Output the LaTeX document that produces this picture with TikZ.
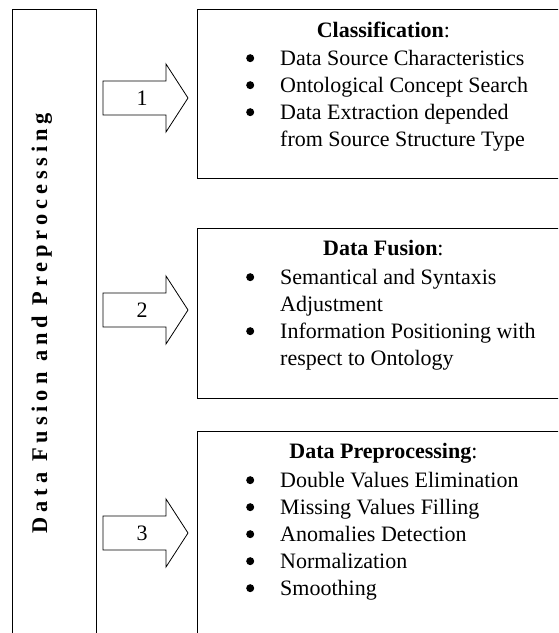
\documentclass[tikz,border=0pt]{standalone}
\usepackage{fontspec}
\setmainfont{Liberation Serif}
\usetikzlibrary{positioning}

\tikzset{
  panel/.style = {draw, line width=0.8pt, anchor=north west, minimum width=372pt, inner sep=0pt},
  head/.style  = {font=\fontsize{22}{27}\selectfont, inner sep=0pt, anchor=base},
  items/.style = {font=\fontsize{22}{27}\selectfont, inner sep=0pt, align=left, anchor=north west},
  numtext/.style = {font=\fontsize{22}{27}\selectfont, inner sep=0pt}
}
\newcommand{\blt}{\hspace*{2pt}\raisebox{3.3pt}{\tikz\fill (0,0) circle (4pt);}}
\newcommand{\itm}[1]{\makebox[36pt][l]{\blt}#1}
\newcommand{\cnt}[1]{\hspace*{36pt}#1}

\begin{document}
\begin{tikzpicture}[x=1pt, y=-1pt, line width=0.8pt]
        \path[use as bounding box, clip] (0,0) rectangle (558,633);
        % left bar
        \node[draw, anchor=north west, minimum width=84pt, minimum height=700pt, inner sep=0pt] (bar) at (12,9) {};
        \node[rotate=90, anchor=base, font=\fontsize{22.4}{26}\selectfont\bfseries\addfontfeatures{LetterSpace=22}] (side) at (47,323) {Data Fusion and Preprocessing};
        % boxes
        \node[panel, minimum height=169pt] (cls) at (197,9) {};
        \node[panel, minimum height=170pt] (fus) at (197,228) {};
        \node[panel, minimum height=300pt] (pre) at (197,431) {};
        \node[head] (clsh) at ([yshift=-28pt]cls.north) {\textbf{Classification}:};
        \node[head] (fush) at ([yshift=-27pt]fus.north) {\textbf{Data Fusion}:};
        \node[head] (preh) at ([yshift=-27.5pt]pre.north) {\textbf{Data Preprocessing}:};
        \node[items] (clsl) at ([xshift=47pt, yshift=-41pt]cls.north west) {\itm{Data Source Characteristics}\\ \itm{Ontological Concept Search}\\ \itm{Data Extraction depended}\\ \cnt{from Source Structure Type}};
        \node[items] (fusl) at ([xshift=47pt, yshift=-41pt]fus.north west) {\itm{Semantical and Syntaxis}\\ \cnt{Adjustment}\\ \itm{Information Positioning with}\\ \cnt{respect to Ontology}};
        \node[items] (prel) at ([xshift=47pt, yshift=-41pt]pre.north west) {\itm{Double Values Elimination}\\ \itm{Missing Values Filling}\\ \itm{Anomalies Detection}\\ \itm{Normalization}\\ \itm{Smoothing}};
        % block arrows
        \foreach \n/\y in {1/98, 2/310, 3/533} {
          \draw (103,\y-17) -- (166,\y-17) -- (166,\y-34) -- (188,\y) -- (166,\y+34) -- (166,\y+17) -- (103,\y+17) -- cycle;
          \node[numtext] (num\n) at (142,\y) {\n};
        }
      \end{tikzpicture}
\end{document}
